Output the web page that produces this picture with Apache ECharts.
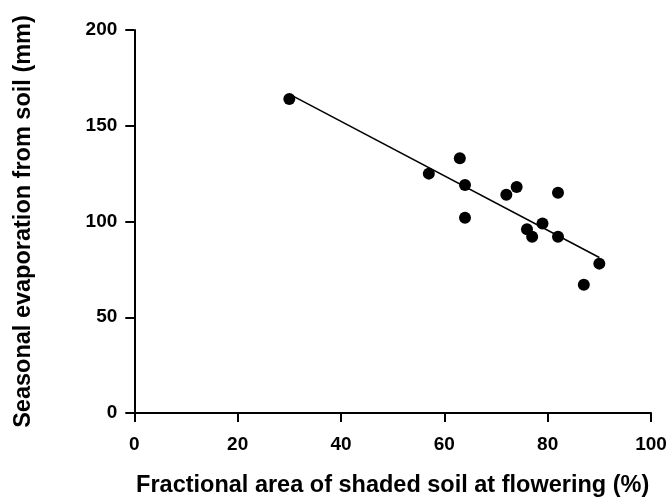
<!DOCTYPE html>
<html>
<head>
<meta charset="utf-8">
<script src="https://cdn.jsdelivr.net/npm/echarts@6/dist/echarts.min.js"></script>
<style>html,body{margin:0;padding:0;background:#fff;}#c{width:670px;height:503px;}</style>
</head>
<body>
<div id="c"></div>
<script>
var shadedArea = [30, 57, 63, 64, 64, 72, 74, 82, 79, 76, 77, 82, 90, 87];
var evaporation = [164, 125, 133, 119, 102, 114, 118, 115, 99, 96, 92, 92, 78, 67];
var fitX = [30, 90];
var fitY = [166.5, 81.2];
var xTicks = [0, 20, 40, 60, 80, 100];
var yTicks = [0, 50, 100, 150, 200];
var xTitle = 'Fractional area of shaded soil at flowering (%)';
var yTitle = 'Seasonal evaporation from soil (mm)';

var pts = shadedArea.map(function (x, i) { return [x, evaporation[i]]; });
var fit = fitX.map(function (x, i) { return [x, fitY[i]]; });
var font = '"Liberation Sans", Arial, Helvetica, sans-serif';

var chart = echarts.init(document.getElementById('c'), null, { renderer: 'canvas' });
chart.setOption({
  animation: false,
  backgroundColor: '#ffffff',
  grid: { left: 134.3, right: 19, top: 30, bottom: 89, containLabel: false },
  xAxis: {
    type: 'value', min: xTicks[0], max: xTicks[xTicks.length - 1], interval: 20,
    name: xTitle, nameLocation: 'middle', nameGap: 61,
    nameTextStyle: { fontFamily: font, fontWeight: 'bold', fontSize: 23.5, color: '#000' },
    axisLine: { onZero: false, lineStyle: { color: '#000', width: 2 } },
    axisTick: { show: true, length: 9, lineStyle: { color: '#000', width: 2 } },
    axisLabel: { margin: 22, fontFamily: font, fontWeight: 'bold', fontSize: 19, color: '#000' },
    splitLine: { show: false }
  },
  yAxis: {
    type: 'value', min: yTicks[0], max: yTicks[yTicks.length - 1], interval: 50,
    name: yTitle, nameLocation: 'middle', nameGap: 99, nameRotate: 90,
    nameTextStyle: { fontFamily: font, fontWeight: 'bold', fontSize: 23.5, color: '#000' },
    axisLine: { show: true, onZero: false, lineStyle: { color: '#000', width: 2 } },
    axisTick: { show: true, length: 9, lineStyle: { color: '#000', width: 2 } },
    axisLabel: { margin: 17, fontFamily: font, fontWeight: 'bold', fontSize: 19, color: '#000' },
    splitLine: { show: false }
  },
  series: [
    {
      type: 'line', data: fit, symbol: 'none', silent: true,
      lineStyle: { color: '#000', width: 1.5 }, z: 2
    },
    {
      type: 'scatter', data: pts, symbol: 'circle', symbolSize: 12,
      itemStyle: { color: '#000', opacity: 1 }, z: 3
    }
  ]
});
</script>
</body>
</html>
